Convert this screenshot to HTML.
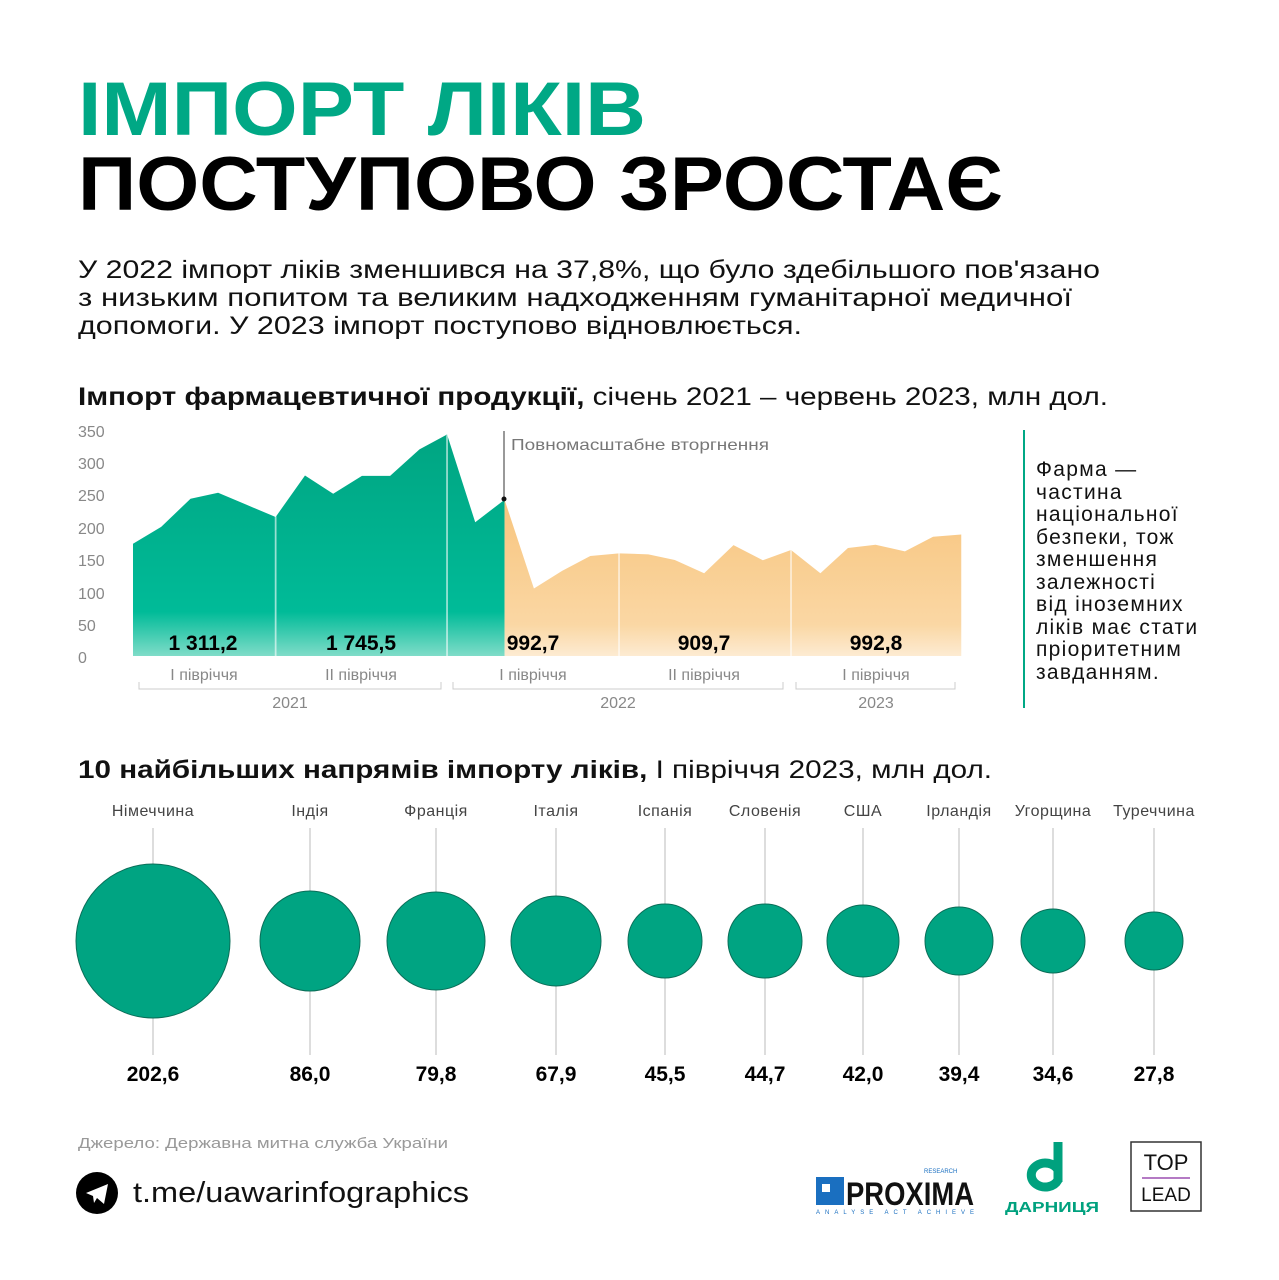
<!DOCTYPE html>
<html><head><meta charset="utf-8"><style>body{margin:0;background:#fff}svg{display:block}text{font-family:"Liberation Sans","DejaVu Sans",sans-serif}</style></head>
<body>
<svg width="1279" height="1280" viewBox="0 0 1279 1280" xmlns="http://www.w3.org/2000/svg">
<defs>
<linearGradient id="g" x1="0" y1="0" x2="0" y2="1"><stop offset="0" stop-color="#00a582"/><stop offset="0.8" stop-color="#00bb98"/><stop offset="1" stop-color="#7fdcc8"/></linearGradient>
<linearGradient id="o" x1="0" y1="0" x2="0" y2="1"><stop offset="0" stop-color="#f8c57e"/><stop offset="0.8" stop-color="#fad7a4"/><stop offset="1" stop-color="#fdebd2"/></linearGradient>
</defs>
<text x="78" y="135" font-size="76" font-weight="bold" fill="#00a885" textLength="568" lengthAdjust="spacingAndGlyphs">ІМПОРТ ЛІКІВ</text>
<text x="78" y="210" font-size="76" font-weight="bold" fill="#000" textLength="925" lengthAdjust="spacingAndGlyphs">ПОСТУПОВО ЗРОСТАЄ</text>
<g font-size="25" fill="#111">
<text x="78" y="278" textLength="1022" lengthAdjust="spacingAndGlyphs">У 2022 імпорт ліків зменшився на 37,8%, що було здебільшого пов'язано</text>
<text x="78" y="306" textLength="994" lengthAdjust="spacingAndGlyphs">з низьким попитом та великим надходженням гуманітарної медичної</text>
<text x="78" y="334" textLength="724" lengthAdjust="spacingAndGlyphs">допомоги. У 2023 імпорт поступово відновлюється.</text>
</g>
<text x="78" y="405" font-size="25" fill="#111" textLength="1030" lengthAdjust="spacingAndGlyphs"><tspan font-weight="bold">Імпорт фармацевтичної продукції,</tspan> січень 2021 – червень 2023, млн дол.</text>
<g font-size="16" fill="#888">
<text x="78" y="437">350</text><text x="78" y="469">300</text><text x="78" y="501">250</text><text x="78" y="534">200</text><text x="78" y="566">150</text><text x="78" y="599">100</text><text x="78" y="631">50</text><text x="78" y="663">0</text>
</g>
<g transform="translate(133,656) scale(0.587,0.3311) translate(-107,-712)">
<polygon fill="url(#g)" points="107,712 107,373 155,322 205,237 252,219 300,255 350,292 400,167 448,222 497,168 545,168 595,88 642,43 690,308 740,240 740,712"/>
<polygon fill="url(#o)" points="740,712 740,240 790,508 838,455 886,410 935,402 985,405 1030,422 1080,462 1130,377 1180,423 1228,392 1278,462 1325,386 1372,376 1422,396 1470,352 1518,345 1518,712"/>
<g stroke="#fff" stroke-width="3" opacity="0.6"><line x1="350" y1="290" x2="350" y2="712"/><line x1="642" y1="45" x2="642" y2="712"/><line x1="935" y1="400" x2="935" y2="712"/><line x1="1228" y1="392" x2="1228" y2="712"/></g>
</g>
<line x1="504" y1="431" x2="504" y2="499" stroke="#333" stroke-width="1"/>
<circle cx="504" cy="499" r="2.5" fill="#111"/>
<text x="511" y="450" font-size="16" fill="#777" textLength="258" lengthAdjust="spacingAndGlyphs">Повномасштабне вторгнення</text>
<g font-size="21" font-weight="bold" fill="#000" text-anchor="middle">
<text x="203" y="650">1 311,2</text><text x="361" y="650">1 745,5</text><text x="533" y="650">992,7</text><text x="704" y="650">909,7</text><text x="876" y="650">992,8</text>
</g>
<g font-size="16" fill="#888" text-anchor="middle">
<text x="204" y="680">І півріччя</text><text x="361" y="680">ІІ півріччя</text><text x="533" y="680">І півріччя</text><text x="704" y="680">ІІ півріччя</text><text x="876" y="680">І півріччя</text>
<text x="290" y="708">2021</text><text x="618" y="708">2022</text><text x="876" y="708">2023</text>
</g>
<g stroke="#ccc" fill="none" stroke-width="1">
<path d="M139,682 V689 H441 V682"/><path d="M453,682 V689 H783 V682"/><path d="M796,682 V689 H955 V682"/>
</g>
<line x1="1024" y1="430" x2="1024" y2="708" stroke="#00a885" stroke-width="2"/>
<g font-size="21" fill="#111" letter-spacing="1.3">
<text x="1036" y="476">Фарма —</text><text x="1036" y="499">частина</text><text x="1036" y="521">національної</text><text x="1036" y="544">безпеки, тож</text><text x="1036" y="566">зменшення</text><text x="1036" y="589">залежності</text><text x="1036" y="611">від іноземних</text><text x="1036" y="634">ліків має стати</text><text x="1036" y="656">пріоритетним</text><text x="1036" y="679">завданням.</text>
</g>
<text x="78" y="778" font-size="25" fill="#111" textLength="914" lengthAdjust="spacingAndGlyphs"><tspan font-weight="bold">10 найбільших напрямів імпорту ліків,</tspan> І півріччя 2023, млн дол.</text>
<g stroke="#bbb" stroke-width="1">
<line x1="153" y1="828" x2="153" y2="1055"/><line x1="310" y1="828" x2="310" y2="1055"/><line x1="436" y1="828" x2="436" y2="1055"/><line x1="556" y1="828" x2="556" y2="1055"/><line x1="665" y1="828" x2="665" y2="1055"/><line x1="765" y1="828" x2="765" y2="1055"/><line x1="863" y1="828" x2="863" y2="1055"/><line x1="959" y1="828" x2="959" y2="1055"/><line x1="1053" y1="828" x2="1053" y2="1055"/><line x1="1154" y1="828" x2="1154" y2="1055"/>
</g>
<g fill="#00a482" stroke="#0a6e58" stroke-width="1">
<circle cx="153" cy="941" r="77"/><circle cx="310" cy="941" r="50"/><circle cx="436" cy="941" r="49"/><circle cx="556" cy="941" r="45"/><circle cx="665" cy="941" r="37"/><circle cx="765" cy="941" r="37"/><circle cx="863" cy="941" r="36"/><circle cx="959" cy="941" r="34"/><circle cx="1053" cy="941" r="32"/><circle cx="1154" cy="941" r="29"/>
</g>
<g font-size="16" fill="#444" text-anchor="middle" letter-spacing="0.5">
<text x="153" y="816">Німеччина</text><text x="310" y="816">Індія</text><text x="436" y="816">Франція</text><text x="556" y="816">Італія</text><text x="665" y="816">Іспанія</text><text x="765" y="816">Словенія</text><text x="863" y="816">США</text><text x="959" y="816">Ірландія</text><text x="1053" y="816">Угорщина</text><text x="1154" y="816">Туреччина</text>
</g>
<g font-size="21" font-weight="bold" fill="#000" text-anchor="middle">
<text x="153" y="1081">202,6</text><text x="310" y="1081">86,0</text><text x="436" y="1081">79,8</text><text x="556" y="1081">67,9</text><text x="665" y="1081">45,5</text><text x="765" y="1081">44,7</text><text x="863" y="1081">42,0</text><text x="959" y="1081">39,4</text><text x="1053" y="1081">34,6</text><text x="1154" y="1081">27,8</text>
</g>
<text x="78" y="1148" font-size="15" fill="#999" textLength="370" lengthAdjust="spacingAndGlyphs">Джерело: Державна митна служба України</text>
<circle cx="97" cy="1193" r="21" fill="#000"/>
<path d="M86,1193 L108,1184 L104,1204 L97,1198 L94,1203 L93,1196 Z" fill="#fff"/>
<text x="133" y="1202" font-size="29" fill="#111" textLength="336" lengthAdjust="spacingAndGlyphs">t.me/uawarinfographics</text>
<rect x="816" y="1177" width="28" height="28" fill="#1a6fc0"/><rect x="822" y="1184" width="8" height="8" fill="#fff"/>
<text x="846" y="1205" font-size="32" font-weight="bold" fill="#111" textLength="128" lengthAdjust="spacingAndGlyphs">PROXIMA</text>
<text x="924" y="1173" font-size="6" fill="#1a6fc0">RESEARCH</text>
<text x="816" y="1214" font-size="6" fill="#1a6fc0" textLength="158" lengthAdjust="spacing">ANALYSE ACT ACHIEVE</text>
<path d="M1058,1142 V1182 M1058,1180 A14,12 0 1 1 1058,1170" stroke="#00a17e" stroke-width="9" fill="none"/>
<text x="1005" y="1212" font-size="15" font-weight="bold" fill="#00a17e" textLength="94" lengthAdjust="spacingAndGlyphs">ДАРНИЦЯ</text>
<rect x="1131" y="1142" width="70" height="69" fill="none" stroke="#333" stroke-width="1.5"/>
<text x="1166" y="1170" font-size="22" fill="#111" text-anchor="middle">TOP</text>
<line x1="1142" y1="1178" x2="1190" y2="1178" stroke="#9b4fb0" stroke-width="1.5"/>
<text x="1166" y="1201" font-size="19" fill="#111" text-anchor="middle">LEAD</text>
</svg>
</body></html>
